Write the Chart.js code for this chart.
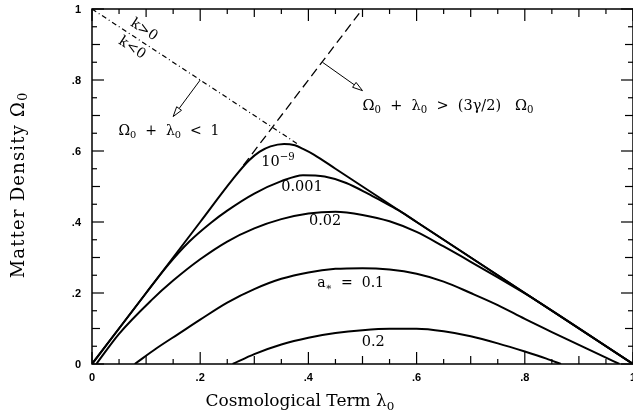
<!DOCTYPE html>
<html>
<head>
<meta charset="utf-8">
<script src="https://cdn.jsdelivr.net/npm/chart.js@4"></script>
<style>
  html, body { margin: 0; padding: 0; background: #fff; }
  #wrap { position: relative; width: 633px; height: 420px; }
  #wrap canvas { position: absolute; left: 0; top: 0; }
</style>
</head>
<body>
<div id="wrap">
  <canvas id="chart" width="633" height="420"></canvas>
  <canvas id="axes" width="633" height="420"></canvas>
</div>
<script>
// Loci of constant a* in the (lambda0, Omega0) plane
const lam_e9 = [0, 0.10, 0.20, 0.26, 0.29, 0.31, 0.33, 0.355, 0.375, 0.39, 0.41, 0.45, 0.60, 0.80, 1.00];
const om_e9  = [0, 0.20, 0.40, 0.52, 0.573, 0.598, 0.613, 0.620, 0.616, 0.606, 0.590, 0.550, 0.400, 0.200, 0];

const lam_001 = [0, 0.10, 0.14, 0.18, 0.22, 0.25, 0.30, 0.35, 0.39, 0.43, 0.47, 0.51, 0.54, 0.57, 0.60, 1.00];
const om_001  = [0, 0.20, 0.278, 0.345, 0.398, 0.432, 0.480, 0.515, 0.532, 0.528, 0.510, 0.480, 0.455, 0.430, 0.400, 0];

const lam_02 = [0.008, 0.05, 0.11, 0.15, 0.20, 0.25, 0.30, 0.35, 0.40, 0.45, 0.50, 0.55, 0.60, 0.65, 0.70, 0.75, 0.79, 0.82, 1.00];
const om_02  = [0, 0.085, 0.180, 0.235, 0.295, 0.345, 0.382, 0.408, 0.424, 0.429, 0.420, 0.402, 0.372, 0.331, 0.288, 0.244, 0.208, 0.180, 0];

const lam_1 = [0.079, 0.12, 0.16, 0.20, 0.25, 0.30, 0.35, 0.40, 0.45, 0.50, 0.55, 0.60, 0.65, 0.70, 0.75, 0.80, 0.85, 0.90, 0.95, 0.975];
const om_1  = [0, 0.045, 0.085, 0.125, 0.173, 0.211, 0.240, 0.258, 0.268, 0.270, 0.266, 0.254, 0.232, 0.200, 0.166, 0.127, 0.090, 0.054, 0.018, 0];

const lam_2 = [0.26, 0.30, 0.35, 0.40, 0.45, 0.50, 0.55, 0.60, 0.65, 0.70, 0.75, 0.80, 0.84, 0.867];
const om_2  = [0, 0.028, 0.055, 0.074, 0.087, 0.095, 0.099, 0.099, 0.092, 0.078, 0.058, 0.035, 0.015, 0];

// Omega0 + lambda0 = 1 (dot-dash) and Omega0 = 2 lambda0 (dashed)
const lam_flat = [0, 0.38];
const om_flat  = [1, 0.62];
const lam_q = [0.28, 0.50];
const om_q  = [0.56, 1.00];

// arrows: tail on the line, head pointing into the region
const arrowTail = [[0.20, 0.80], [0.426, 0.85]];
const arrowHead = [[0.15, 0.697], [0.50, 0.77]];

const tickVals   = [0, 0.2, 0.4, 0.6, 0.8, 1];
const tickLabels = ['0', '.2', '.4', '.6', '.8', '1'];

function pts(xs, ys) {
  return xs.map((x, i) => ({ x: x, y: ys[i] }));
}

function curve(xs, ys) {
  return {
    data: pts(xs, ys),
    showLine: true,
    borderColor: '#000',
    borderWidth: 2,
    pointRadius: 0,
    cubicInterpolationMode: 'monotone'
  };
}

const datasets = [
  curve(lam_e9, om_e9),
  curve(lam_001, om_001),
  curve(lam_02, om_02),
  curve(lam_1, om_1),
  curve(lam_2, om_2),
  { data: pts(lam_flat, om_flat), showLine: true, borderColor: '#000', borderWidth: 1.2,
    borderDash: [5, 3, 1, 3], pointRadius: 0 },
  { data: pts(lam_q, om_q), showLine: true, borderColor: '#000', borderWidth: 1.3,
    borderDash: [9, 5], pointRadius: 0 }
];

const SERIF = '"DejaVu Serif", serif';

// text with optional sub/superscript pieces: [[str, 'sub'|'sup'|''], ...]
function richWidth(ctx, parts, size) {
  let w = 0;
  parts.forEach(p => {
    const s = p[1] ? size * 0.7 : size;
    ctx.font = s + 'px ' + SERIF;
    w += ctx.measureText(p[0]).width;
  });
  return w;
}

function drawRich(ctx, x, y, parts, size, align) {
  let cx = x;
  if (align === 'center') cx = x - richWidth(ctx, parts, size) / 2;
  ctx.textBaseline = 'middle';
  ctx.textAlign = 'left';
  parts.forEach(p => {
    let s = size, dy = 0;
    if (p[1] === 'sub') { s = size * 0.7; dy = size * 0.28; }
    if (p[1] === 'sup') { s = size * 0.7; dy = -size * 0.35; }
    ctx.font = s + 'px ' + SERIF;
    ctx.fillText(p[0], cx, y + dy);
    cx += ctx.measureText(p[0]).width;
  });
}

function seg(ctx, x0, y0, x1, y1) {
  ctx.beginPath();
  ctx.moveTo(x0, y0);
  ctx.lineTo(x1, y1);
  ctx.stroke();
}

// box and inward ticks go on their own canvas laid over the chart
function drawFrame(xs, ys) {
  const ctx = document.getElementById('axes').getContext('2d');
  const L = xs.getPixelForValue(0), R = xs.getPixelForValue(1);
  const B = ys.getPixelForValue(0), T = ys.getPixelForValue(1);
  ctx.clearRect(0, 0, 633, 420);
  ctx.strokeStyle = '#000';
  ctx.lineWidth = 1.5;
  ctx.beginPath();
  ctx.moveTo(L, T); ctx.lineTo(R, T); ctx.lineTo(R, B); ctx.lineTo(L, B); ctx.closePath();
  ctx.stroke();
  ctx.lineWidth = 1.2;
  for (let i = 0; i <= 20; i++) {
    const v = i * 0.05;
    const len = i % 4 === 0 ? 12 : (i % 2 === 0 ? 8 : 5);
    const px = xs.getPixelForValue(v);
    const py = ys.getPixelForValue(v);
    seg(ctx, px, B, px, B - len);
    seg(ctx, px, T, px, T + len);
    seg(ctx, L, py, L + len, py);
    seg(ctx, R, py, R - len, py);
  }
}

const annotate = {
  id: 'annotate',
  afterDraw(chart) {
    const ctx = chart.ctx;
    const xs = chart.scales.x, ys = chart.scales.y;
    const L = xs.getPixelForValue(0), R = xs.getPixelForValue(1);
    const B = ys.getPixelForValue(0), T = ys.getPixelForValue(1);
    const P = (x, y) => [xs.getPixelForValue(x), ys.getPixelForValue(y)];
    let p;

    drawFrame(xs, ys);

    ctx.save();
    ctx.fillStyle = '#000';
    ctx.strokeStyle = '#000';
    ctx.setLineDash([]);

    // arrows
    ctx.lineWidth = 1;
    arrowTail.forEach((t, i) => {
      const x0 = xs.getPixelForValue(t[0]), y0 = ys.getPixelForValue(t[1]);
      const x1 = xs.getPixelForValue(arrowHead[i][0]), y1 = ys.getPixelForValue(arrowHead[i][1]);
      const ang = Math.atan2(y1 - y0, x1 - x0);
      const hl = 10, hw = 3;
      const bx = x1 - hl * Math.cos(ang), by = y1 - hl * Math.sin(ang);
      seg(ctx, x0, y0, bx, by);
      ctx.beginPath();
      ctx.moveTo(x1, y1);
      ctx.lineTo(bx + hw * Math.sin(ang), by - hw * Math.cos(ang));
      ctx.lineTo(bx - hw * Math.sin(ang), by + hw * Math.cos(ang));
      ctx.closePath();
      ctx.fillStyle = '#fff';
      ctx.fill();
      ctx.stroke();
    });
    ctx.fillStyle = '#000';

    // tick labels
    ctx.font = 'bold 11px "Liberation Sans", sans-serif';
    ctx.textAlign = 'center';
    ctx.textBaseline = 'top';
    tickVals.forEach((v, i) => {
      ctx.fillText(tickLabels[i], xs.getPixelForValue(v), B + 8);
    });
    ctx.textAlign = 'right';
    ctx.textBaseline = 'middle';
    tickVals.forEach((v, i) => {
      ctx.fillText(tickLabels[i], L - 11, ys.getPixelForValue(v) + 1);
    });

    // region labels
    p = P(0.049, 0.656);
    drawRich(ctx, p[0], p[1], [['Ω', ''], ['0', 'sub'], ['  +  λ', ''], ['0', 'sub'], ['  <  1', '']], 14, 'left');
    p = P(0.50, 0.727);
    drawRich(ctx, p[0], p[1], [['Ω', ''], ['0', 'sub'], ['  +  λ', ''], ['0', 'sub'], ['  >  (3γ/2)   Ω', ''], ['0', 'sub']], 14.5, 'left');

    // curvature labels along Omega0 + lambda0 = 1
    const rot = Math.atan2(B - T, R - L);
    [['k>0', 0.096, 0.941], ['k<0', 0.074, 0.890]].forEach(k => {
      p = P(k[1], k[2]);
      ctx.save();
      ctx.translate(p[0], p[1]);
      ctx.rotate(rot);
      drawRich(ctx, 0, 0, [[k[0], '']], 14, 'center');
      ctx.restore();
    });

    // a* labels
    p = P(0.313, 0.568);
    drawRich(ctx, p[0], p[1], [['10', ''], ['−9', 'sup']], 14.5, 'left');
    p = P(0.388, 0.497);
    drawRich(ctx, p[0], p[1], [['0.001', '']], 14.5, 'center');
    p = P(0.431, 0.401);
    drawRich(ctx, p[0], p[1], [['0.02', '']], 14.5, 'center');
    p = P(0.478, 0.228);
    drawRich(ctx, p[0], p[1], [['a', ''], ['∗', 'sub'], ['  =  0.1', '']], 14, 'center');
    p = P(0.52, 0.062);
    drawRich(ctx, p[0], p[1], [['0.2', '']], 14.5, 'center');

    // axis titles
    drawRich(ctx, 300, 402, [['Cosmological Term λ', ''], ['0', 'sub']], 17, 'center');
    ctx.save();
    ctx.translate(19, 185);
    ctx.rotate(-Math.PI / 2);
    ctx.letterSpacing = '1.2px';
    drawRich(ctx, 0, 0, [['Matter Density Ω', ''], ['0', 'sub']], 18, 'center');
    ctx.restore();

    ctx.restore();
  }
};

new Chart(document.getElementById('chart'), {
  type: 'scatter',
  data: { datasets: datasets },
  options: {
    responsive: false,
    animation: false,
    layout: { padding: { left: 0, right: 0, top: 9, bottom: 0 } },
    plugins: { legend: { display: false }, tooltip: { enabled: false } },
    scales: {
      x: {
        type: 'linear', min: 0, max: 1,
        ticks: { display: false },
        grid: { display: false },
        border: { display: false },
        afterFit: s => { s.height = 56; }
      },
      y: {
        type: 'linear', min: 0, max: 1,
        ticks: { display: false },
        grid: { display: false },
        border: { display: false },
        afterFit: s => { s.width = 92; }
      }
    }
  },
  plugins: [annotate]
});
</script>
</body>
</html>
